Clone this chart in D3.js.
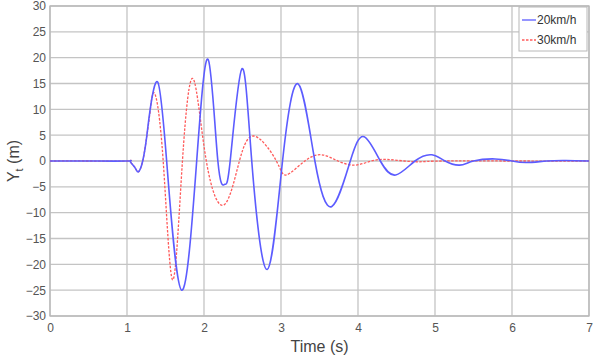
<!DOCTYPE html>
<html>
<head>
<meta charset="utf-8">
<script src="https://cdn.jsdelivr.net/npm/d3@7"></script>
<style>
  body { margin: 0; background: #fff; }
  svg { font-family: "Liberation Sans", Arial, sans-serif; }
</style>
</head>
<body>
<div id="chart"></div>
<script>
// Time (s) and lateral displacement Yt (m) (extrema + zero crossings)
const time20 = [0, 0.5, 1.0, 1.04, 1.10, 1.147, 1.204, 1.256, 1.30, 1.398, 1.515, 1.71, 1.905, 2.056, 2.18, 2.27, 2.34, 2.49, 2.62, 2.82, 3.02, 3.225, 3.44, 3.66, 3.9, 4.08, 4.29, 4.49, 4.74, 4.96, 5.13, 5.32, 5.5, 5.78, 6.0, 6.19, 6.45, 6.7, 7.0];
const yt20   = [0, 0, 0, 0, -1.2, -2.1, 0, 4.7, 9.9, 15.3, 0, -25, 0, 19.6, 0, -4.5, 0, 17.8, 0, -21, 0, 14.9, 0, -8.8, 0, 4.7, 0, -2.7, 0, 1.2, 0, -0.8, 0, 0.4, 0, -0.3, 0, 0.1, 0];

const time30 = [0, 0.5, 1.0, 1.04, 1.10, 1.147, 1.204, 1.256, 1.30, 1.358, 1.47, 1.593, 1.72, 1.86, 2.03, 2.26, 2.46, 2.66, 2.94, 3.07, 3.31, 3.53, 3.74, 3.96, 4.17, 4.37, 4.6, 4.8, 5.1, 6.0, 7.0];
const yt30   = [0, 0, 0, 0, -1.2, -2.1, 0, 4.7, 9.6, 13.1, 0, -23, 0, 15.9, 0, -8.5, 0, 4.8, 0, -2.7, 0, 1.2, 0, -0.8, 0, 0.3, 0, -0.15, 0, 0, 0];

const xTicks = [0, 1, 2, 3, 4, 5, 6, 7];
const yTicks = [-30, -25, -20, -15, -10, -5, 0, 5, 10, 15, 20, 25, 30];

const width = 596, height = 357;
const margin = { top: 6, right: 7, bottom: 41, left: 50 };

const svg = d3.select("#chart").append("svg")
  .attr("width", width)
  .attr("height", height);

const x = d3.scaleLinear().domain([0, 7]).range([margin.left, width - margin.right]);
const y = d3.scaleLinear().domain([-30, 30]).range([height - margin.bottom, margin.top]);

// grid
svg.append("g")
  .selectAll("line.vg")
  .data(xTicks)
  .join("line")
  .attr("x1", d => x(d)).attr("x2", d => x(d))
  .attr("y1", y(-30)).attr("y2", y(30))
  .attr("stroke", "#c4c4c4").attr("stroke-width", 1.3);

svg.append("g")
  .selectAll("line.hg")
  .data(yTicks)
  .join("line")
  .attr("x1", x(0)).attr("x2", x(7))
  .attr("y1", d => y(d)).attr("y2", d => y(d))
  .attr("stroke", "#c4c4c4").attr("stroke-width", 1.3);

// frame
svg.append("rect")
  .attr("x", x(0)).attr("y", y(30))
  .attr("width", x(7) - x(0)).attr("height", y(-30) - y(30))
  .attr("fill", "none").attr("stroke", "#b8b8b8").attr("stroke-width", 1.3);

// axes (tick labels only)
const xAxis = svg.append("g")
  .attr("transform", `translate(0,${y(-30)})`)
  .call(d3.axisBottom(x).tickValues(xTicks).tickSize(0).tickPadding(7).tickFormat(d3.format("d")));
const yAxis = svg.append("g")
  .attr("transform", `translate(${x(0)},0)`)
  .call(d3.axisLeft(y).tickValues(yTicks).tickSize(0).tickPadding(4).tickFormat(d3.format("d")));
[xAxis, yAxis].forEach(g => {
  g.select(".domain").remove();
  g.selectAll("text")
    .attr("fill", "#555")
    .style("font-size", "12px")
    .style("font-family", "'Liberation Sans', Arial, sans-serif");
});

// lines
const line = d3.line().curve(d3.curveNatural);
const pts20 = time20.map((t, i) => [x(t), y(yt20[i])]);
const pts30 = time30.map((t, i) => [x(t), y(yt30[i])]);

svg.append("path")
  .attr("d", line(pts30))
  .attr("fill", "none")
  .attr("stroke", "#ff5a5a")
  .attr("stroke-width", 1.3)
  .attr("stroke-dasharray", "2.5,1.5");

svg.append("path")
  .attr("d", line(pts20))
  .attr("fill", "none")
  .attr("stroke", "#5c5cff")
  .attr("stroke-width", 1.6);

// axis labels
svg.append("text")
  .attr("x", x(3.5))
  .attr("y", 352)
  .attr("text-anchor", "middle")
  .attr("fill", "#444")
  .style("font-size", "16px")
  .text("Time (s)");

const yl = svg.append("text")
  .attr("transform", `translate(19,${(y(30) + y(-30)) / 2}) rotate(-90)`)
  .attr("text-anchor", "middle")
  .attr("fill", "#444")
  .style("font-size", "16px");
yl.append("tspan").text("Y");
yl.append("tspan").attr("dy", 4).style("font-size", "11px").text("t");
yl.append("tspan").attr("dy", -4).text(" (m)");

// legend
const lg = svg.append("g").attr("transform", "translate(519,7)");
lg.append("rect")
  .attr("width", 68).attr("height", 44)
  .attr("fill", "#fff").attr("stroke", "#b8b8b8");
const legendItems = [
  { name: "20km/h", color: "#5c5cff", dash: null },
  { name: "30km/h", color: "#ff5a5a", dash: "2.5,1.5" }
];
legendItems.forEach((d, i) => {
  const yy = 13 + i * 20;
  lg.append("line")
    .attr("x1", 3).attr("x2", 17).attr("y1", yy).attr("y2", yy)
    .attr("stroke", d.color).attr("stroke-width", 1.3)
    .attr("stroke-dasharray", d.dash);
  lg.append("text")
    .attr("x", 18).attr("y", yy + 4)
    .attr("fill", "#333")
    .style("font-size", "12px")
    .text(d.name);
});
</script>
</body>
</html>
